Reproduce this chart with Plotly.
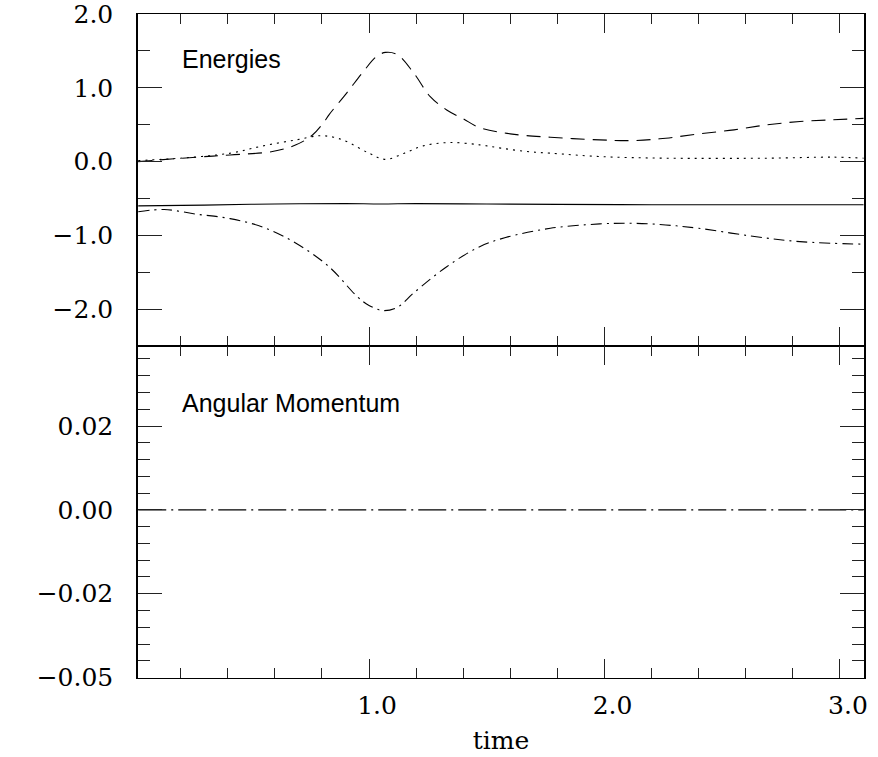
import plotly.graph_objects as go
from plotly.subplots import make_subplots

# Energy components versus time
t_kin = [0.02, 0.10, 0.27, 0.41, 0.59, 0.69, 0.76, 0.81, 0.83, 0.905, 0.976, 1.03, 1.07,
         1.12, 1.19, 1.26, 1.33, 1.40, 1.47, 1.60, 1.77, 1.98, 2.12, 2.26, 2.40, 2.55,
         2.69, 2.83, 2.97, 3.10]
e_kin = [0.00, 0.02, 0.06, 0.09, 0.136, 0.227, 0.36, 0.54, 0.634, 0.928, 1.22, 1.42, 1.48,
         1.45, 1.20, 0.88, 0.70, 0.58, 0.46, 0.376, 0.33, 0.294, 0.285, 0.317, 0.376, 0.43,
         0.498, 0.543, 0.566, 0.585]

t_th = [0.02, 0.20, 0.41, 0.55, 0.69, 0.79, 0.85, 0.905, 1.00, 1.07, 1.15, 1.23, 1.34,
        1.47, 1.56, 1.67, 1.77, 1.98, 2.26, 2.69, 2.97, 3.10]
e_th = [0.014, 0.046, 0.114, 0.213, 0.294, 0.35, 0.33, 0.271, 0.114, 0.03, 0.114, 0.213,
        0.258, 0.227, 0.182, 0.136, 0.114, 0.068, 0.046, 0.046, 0.06, 0.046]

t_tot = [0.02, 0.30, 0.60, 0.90, 1.05, 1.20, 1.50, 1.80, 2.20, 2.60, 3.10]
e_tot = [-0.60, -0.59, -0.575, -0.57, -0.575, -0.57, -0.575, -0.58, -0.585, -0.585, -0.585]

t_pot = [0.02, 0.13, 0.27, 0.41, 0.55, 0.69, 0.83, 0.95, 1.00, 1.06, 1.12, 1.19, 1.33,
         1.47, 1.58, 1.77, 1.98, 2.12, 2.26, 2.40, 2.62, 2.83, 3.10]
e_pot = [-0.68, -0.65, -0.714, -0.773, -0.89, -1.107, -1.425, -1.83, -1.95, -2.02, -1.976,
         -1.78, -1.425, -1.153, -1.03, -0.904, -0.845, -0.836, -0.859, -0.904, -1.008,
         -1.085, -1.12]

# Angular momentum versus time
t_ang = [0.02, 0.5, 1.0, 1.5, 2.0, 2.5, 3.1]
l_ang = [0.0, 0.0, 0.0, 0.0, 0.0, 0.0, 0.0]

# Tick labels
y1_ticks = [-2.0, -1.0, 0.0, 1.0, 2.0]
y1_text = ["\u22122.0", "\u22121.0", "0.0", "1.0", "2.0"]
y2_ticks = [-0.04, -0.02, 0.0, 0.02]
y2_text = ["\u22120.05", "\u22120.02", "0.00", "0.02"]
x_ticks = [1.0, 2.0, 3.0]
x_text = ["1.0", "2.0", "3.0"]

fig = make_subplots(rows=2, cols=1, shared_xaxes=True, vertical_spacing=0)

line_kw = dict(color="black", width=1.1)
fig.add_trace(go.Scatter(x=t_kin, y=e_kin, mode="lines", line_shape="spline",
                         line=dict(dash="14px,8px", **line_kw)), row=1, col=1)
fig.add_trace(go.Scatter(x=t_th, y=e_th, mode="lines", line_shape="spline",
                         line=dict(dash="2px,5px", **line_kw)), row=1, col=1)
fig.add_trace(go.Scatter(x=t_tot, y=e_tot, mode="lines", line_shape="spline",
                         line=dict(**line_kw)), row=1, col=1)
fig.add_trace(go.Scatter(x=t_pot, y=e_pot, mode="lines", line_shape="spline",
                         line=dict(dash="11px,5px,2px,5px", **line_kw)), row=1, col=1)
fig.add_trace(go.Scatter(x=t_ang, y=l_ang, mode="lines",
                         line=dict(dash="28px,5px,2px,5px", **line_kw)), row=2, col=1)

num_font = dict(family="DejaVu Serif", size=25, color="black")
tick_col = "#222"
frame = dict(showline=True, linecolor="black", mirror="allticks",
             ticks="inside", tickcolor=tick_col, tickwidth=1.2, showgrid=False,
             zeroline=False, automargin=False, ticklabeloverflow="allow")

x_common = dict(range=[0.019, 3.102], tickmode="array", tickvals=x_ticks, ticktext=x_text,
                ticklen=19, linewidth=1,
                minor=dict(ticks="inside", dtick=0.2, tick0=0, ticklen=10,
                           tickcolor=tick_col, tickwidth=1.2),
                **frame)
fig.update_xaxes(showticklabels=False, **x_common, row=1, col=1)
fig.update_xaxes(showticklabels=True, tickfont=num_font, ticklabelstandoff=5,
                 ticklabelshift=8,
                 title=dict(text="time", font=num_font, standoff=12),
                 **x_common, row=2, col=1)

fig.update_yaxes(range=[-2.5, 2.0005], tickmode="array", tickvals=y1_ticks, ticktext=y1_text,
                 ticklen=24, linewidth=1.5, tickfont=num_font, ticklabelstandoff=18,
                 minor=dict(ticks="inside", dtick=0.5, tick0=0, ticklen=12,
                            tickcolor=tick_col, tickwidth=1.2),
                 **frame, row=1, col=1)
fig.update_yaxes(range=[-0.0401, 0.0391], tickmode="array", tickvals=y2_ticks,
                 ticktext=y2_text, ticklen=24, linewidth=1.5, tickfont=num_font,
                 ticklabelstandoff=18,
                 minor=dict(ticks="inside", dtick=0.004, tick0=0, ticklen=12,
                            tickcolor=tick_col, tickwidth=1.2),
                 **frame, row=2, col=1)

label_font = dict(family="Liberation Sans", size=25, color="black")
fig.add_annotation(text="Energies", xref="paper", yref="paper", x=0.058, y=0.932,
                   xanchor="left", yanchor="middle", showarrow=False, font=label_font)
fig.add_annotation(text="Angular Momentum", xref="paper", yref="paper", x=0.058, y=0.414,
                   xanchor="left", yanchor="middle", showarrow=False, font=label_font)

fig.update_layout(width=878, height=757, margin=dict(l=138, r=14, t=14, b=79),
                  plot_bgcolor="white", paper_bgcolor="white", showlegend=False)

fig.write_html("out.html")
